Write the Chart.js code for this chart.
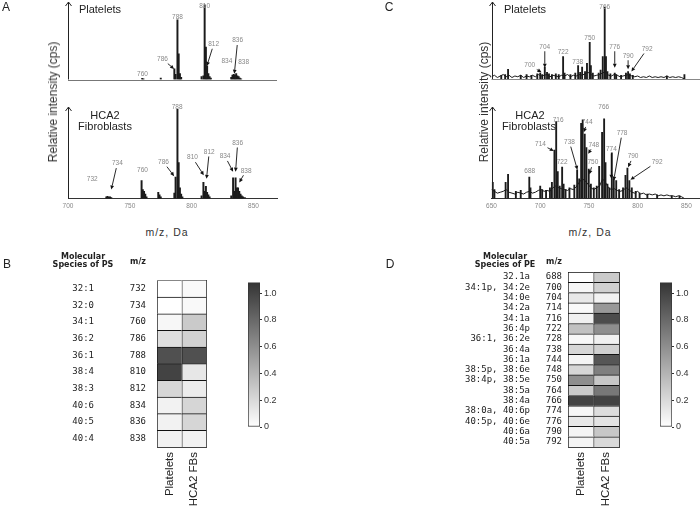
<!DOCTYPE html>
<html>
<head>
<meta charset="utf-8">
<script src="https://cdn.jsdelivr.net/npm/chart.js@4.4.0/dist/chart.umd.min.js"></script>
<style>
  html, body { margin: 0; padding: 0; background: #fff; }
  #fig { position: relative; width: 700px; height: 506px; overflow: hidden; font-family: 'Liberation Sans', Arial, sans-serif; color: #222; }
  #fig canvas { position: absolute; }
  .t { position: absolute; white-space: nowrap; line-height: 1; transform: translate(-50%, -50%); }
  .panel { font-size: 12px; }
  .name { font-size: 11px; }
  .ytitle { font-size: 12px; color: #333; transform: translate(-50%, -50%) rotate(-90deg); }
  .xtitle { font-size: 10.5px; color: #333; letter-spacing: 1px; }
  .head { font-family: 'DejaVu Sans', sans-serif; font-weight: bold; font-size: 8px; color: #222; }
</style>
</head>
<body>
<div id="fig">
  <canvas id="cA1" width="290" height="100" style="left:0;top:0"></canvas>
  <canvas id="cA2" width="290" height="116" style="left:0;top:100px"></canvas>
  <canvas id="cC1" width="260" height="100" style="left:440px;top:0"></canvas>
  <canvas id="cC2" width="260" height="116" style="left:440px;top:100px"></canvas>
  <canvas id="hB" width="215" height="266" style="left:0;top:240px"></canvas>
  <canvas id="barB" width="50" height="160" style="left:240px;top:275px"></canvas>
  <canvas id="hD" width="280" height="266" style="left:350px;top:240px"></canvas>
  <canvas id="barD" width="48" height="160" style="left:652px;top:275px"></canvas>

  <div class="t panel" style="left:6px;top:7px">A</div>
  <div class="t panel" style="left:389px;top:7px">C</div>
  <div class="t panel" style="left:7px;top:264px">B</div>
  <div class="t panel" style="left:390px;top:264px">D</div>

  <div class="t name" style="left:100px;top:9px">Platelets</div>
  <div class="t name" style="left:105px;top:115px">HCA2</div>
  <div class="t name" style="left:105px;top:126px">Fibroblasts</div>
  <div class="t name" style="left:525px;top:9px">Platelets</div>
  <div class="t name" style="left:530px;top:115px">HCA2</div>
  <div class="t name" style="left:529px;top:126px">Fibroblasts</div>

  <div class="t ytitle" style="left:53px;top:102px">Relative intensity (cps)</div>
  <div class="t ytitle" style="left:484px;top:102px">Relative intensity (cps)</div>
  <div class="t xtitle" style="left:167px;top:232px">m/z, Da</div>
  <div class="t xtitle" style="left:590px;top:232px">m/z, Da</div>

  <div class="t head" style="left:83px;top:257px">Molecular</div>
  <div class="t head" style="left:83px;top:265px">Species of PS</div>
  <div class="t head" style="left:138px;top:262px">m/z</div>
  <div class="t head" style="left:505px;top:257px">Molecular</div>
  <div class="t head" style="left:505px;top:265px">Species of PE</div>
  <div class="t head" style="left:554px;top:262px">m/z</div>
</div>
<script>
// ---- panel A : PS spectra ----
const mzA1 = [760, 761, 775, 786, 787, 788.5, 789.5, 790.5, 791.5, 808, 809.5, 810.5, 811.5, 812.5, 813.5, 814.5, 815.5, 832, 833, 834, 835, 836, 837, 838, 839, 840];
const intA1 = [1.5, 1, 2, 14, 7, 79, 34, 8, 3, 4, 5, 99, 43, 18, 8, 4, 2, 3, 6, 7, 6, 8, 5, 4, 2, 1];
const mzA2 = [731, 732, 733, 734, 735, 759.5, 760.5, 761.5, 762.5, 763.5, 773, 774, 775, 786, 787, 788.5, 789.5, 790.5, 791.5, 792.5, 808, 809.5, 810.5, 811.5, 812.5, 813.5, 814.5, 832, 833.5, 834.5, 835.5, 836.5, 837.5, 838.5, 839.5, 840.5, 841.5, 843];
const intA2 = [2, 2.5, 1.5, 2, 1, 20, 10, 8, 5, 2, 7, 4, 2, 6, 24, 100, 40, 12, 5, 2, 3, 18, 8, 13.5, 7, 4, 2, 3, 23, 8, 23, 12, 12, 8, 5, 3, 2, 1];

const annA1Text = ['760', '786', '788', '810', '812', '834', '836', '838'];
const annA1Pos = [[760.2, 6.5], [776.4, 27], [788.5, 83], [810.5, 97], [817.8, 46.7], [828.5, 23.7], [837.2, 51.6], [842, 22.6]];
const annA1Tip = [null, [785.8, 14], null, null, [812.3, 18], null, [834.5, 7.6], null];
const annA2Text = ['732', '734', '760', '786', '788', '810', '812', '834', '836', '838'];
const annA2Pos = [[719.6, 22], [739.9, 39], [760.2, 32], [777.2, 40.6], [788.2, 102], [800.7, 45.6], [814.2, 52], [827, 47], [837.2, 62], [844, 31]];
const annA2Tip = [null, [735, 10], null, [785.8, 25], null, [809.8, 26], [812, 22], [833.5, 30], [835.5, 30], [838.5, 18]];

// ---- panel C : PE spectra ----
const mzC1 = [660, 664, 667, 680, 686, 691, 697, 700, 702, 704.7, 707, 709, 712, 716, 719, 723.5, 725, 731, 736, 738.9, 741, 743, 746, 748, 750.8, 752, 754, 760, 762, 764.2, 766.2, 767.5, 769, 772, 776.5, 778, 783, 788, 790.2, 792, 795, 830, 848];
const intC1 = [5, 6, 13, 5, 6, 5, 7, 8, 6, 16, 9, 7, 6, 7, 6, 30, 8, 6, 8, 18, 9, 16, 10, 21, 49, 18, 8, 8, 12, 30, 96, 30, 10, 7, 8, 6, 5, 8, 10, 7, 5, 4, 6];
const mzC2 = [651.3, 653, 664.5, 667, 675, 680, 688.8, 690, 700, 702, 706, 710, 712, 714.6, 716.4, 718, 720, 722.5, 724, 726, 730, 735, 737.9, 740, 742, 743.6, 745.7, 747.4, 749.8, 752, 755, 758, 760.5, 763.5, 765.6, 767, 769, 771, 773.5, 775.5, 778, 781, 785, 787.5, 789.5, 791.5, 794, 798, 802, 810, 820, 835, 843];
const intC2 = [18, 10, 18, 27, 8, 9, 24, 12, 14, 10, 9, 12, 18, 54, 86, 30, 14, 35, 16, 10, 12, 15, 32, 22, 84, 88, 72, 57, 33, 16, 12, 14, 36, 74, 89, 40, 16, 12, 51, 22, 20, 10, 12, 26, 34, 20, 12, 8, 6, 5, 4, 3, 3];
const noiseMzC = [650, 653, 656, 659, 662, 665, 668, 671, 674, 677, 680, 683, 686, 689, 692, 695, 698, 701, 704, 707, 710, 713, 716, 719, 722, 725, 728, 731, 734, 737, 740, 743, 746, 749, 752, 755, 758, 761, 764, 767, 770, 773, 776, 779, 782, 785, 788, 791, 794, 797, 800, 803, 806, 809, 812, 815, 818, 821, 824, 827, 830, 833, 836, 839, 842, 845, 848];
const noiseC1 = [3, 5, 2, 4, 6, 3, 5, 2, 4, 3, 5, 2, 4, 3, 5, 3, 6, 4, 5, 6, 3, 5, 4, 3, 5, 4, 6, 3, 5, 4, 6, 5, 7, 9, 6, 4, 5, 6, 8, 10, 5, 4, 6, 5, 3, 4, 5, 6, 4, 3, 4, 2, 3, 2, 4, 2, 3, 2, 3, 2, 4, 2, 3, 2, 3, 2, 0];
const noiseC2 = [10, 8, 6, 7, 8, 10, 7, 6, 5, 7, 6, 5, 7, 8, 6, 7, 9, 10, 8, 9, 8, 12, 14, 12, 11, 10, 9, 11, 10, 13, 18, 22, 20, 16, 12, 10, 12, 14, 22, 18, 12, 10, 11, 9, 8, 9, 12, 10, 7, 6, 8, 5, 6, 4, 5, 4, 5, 3, 4, 3, 4, 3, 3, 2, 3, 2, 0];

const annC1Text = ['700', '704', '722', '738', '750', '766', '776', '790', '792'];
const annC1Pos = [[689.3, 18], [704.7, 43], [723.5, 36], [738.5, 23], [750.8, 55], [766.2, 96], [776.5, 43], [790.2, 31], [809.7, 40]];
const annC1Tip = [[701.3, 9], [704.7, 15], null, null, null, null, [776.5, 15], [790.2, 13], [793.6, 10]];
const annC2Text = ['688', '714', '716', '722', '738', '744', '748', '750', '766', '774', '778', '790', '792'];
const annC2Pos = [[689.3, 31], [700.3, 61], [718.4, 88], [722.5, 40], [730, 63], [748.2, 85], [755, 60], [754, 40], [765.2, 102], [773, 55], [784, 73], [795.3, 47], [820, 41]];
const annC2Tip = [null, [713.9, 53], null, null, [738.2, 32], [744.7, 74], [749.2, 50], [750.5, 27], null, [773, 22], [775.4, 20], [790.2, 35], [792.6, 21]];

// ---- heatmaps ----
const heatCols = ['Platelets', 'HCA2 FBs'];
const speciesPS = ['32:1', '32:0', '34:1', '36:2', '36:1', '38:4', '38:3', '40:6', '40:5', '40:4'];
const mzPS = ['732', '734', '760', '786', '788', '810', '812', '834', '836', '838'];
const platePS = [0, 0, 0.04, 0.17, 0.93, 1.0, 0.22, 0.07, 0.07, 0.07];
const fibroPS = [0.03, 0.03, 0.28, 0.24, 0.93, 0.13, 0.1, 0.22, 0.22, 0.07];

const speciesPE = ['32.1a', '34:1p, 34:2e', '34:0e', '34:2a', '34:1a', '36:4p', '36:1, 36:2e', '36:4a', '36:1a', '38:5p, 38:6e', '38:4p, 38:5e', '38:5a', '38:4a', '38:0a, 40:6p', '40:5p, 40:6e', '40:6a', '40:5a'];
const mzPE = ['688', '700', '704', '714', '716', '722', '728', '738', '744', '748', '750', '764', '766', '774', '776', '790', '792'];
const platePE = [0, 0.05, 0.12, 0.03, 0.08, 0.33, 0.04, 0.22, 0.06, 0.22, 0.6, 0.28, 1.0, 0.05, 0.12, 0.06, 0.06];
const fibroPE = [0.28, 0.25, 0.07, 0.55, 0.95, 0.6, 0.08, 0.25, 0.9, 0.68, 0.3, 0.72, 1.0, 0.18, 0.15, 0.3, 0.2];

const cbMax = 1.08;
const cbTicks = [0, 0.2, 0.4, 0.6, 0.8, 1.0];

const INK = '#1b1b1b';
const DARK = 52;

function grayOf(v) {
  const g = Math.round(255 - (v / cbMax) * (255 - DARK));
  return 'rgb(' + g + ',' + g + ',' + g + ')';
}

// y axis with an open arrow head, and optional plain baseline
function axisArrow(baseColor) {
  return {
    id: 'axisArrow',
    afterDraw(chart) {
      const ctx = chart.ctx, a = chart.chartArea;
      ctx.save();
      ctx.lineWidth = 1;
      if (baseColor) {
        ctx.strokeStyle = baseColor;
        ctx.beginPath();
        ctx.moveTo(a.left, Math.round(a.bottom) + 0.5);
        ctx.lineTo(a.right, Math.round(a.bottom) + 0.5);
        ctx.stroke();
      }
      const x = Math.round(a.left) + 0.5;
      ctx.strokeStyle = '#222';
      ctx.beginPath();
      ctx.moveTo(x, a.bottom);
      ctx.lineTo(x, a.top - 2);
      ctx.moveTo(x - 3, a.top + 2);
      ctx.lineTo(x, a.top - 2);
      ctx.lineTo(x + 3, a.top + 2);
      ctx.stroke();
      ctx.restore();
    }
  };
}

// grey m/z labels, some with a black arrow to their peak
function peakLabels(texts, pos, tips) {
  return {
    id: 'peakLabels',
    afterDatasetsDraw(chart) {
      const ctx = chart.ctx, xs = chart.scales.x, ys = chart.scales.y;
      ctx.save();
      ctx.font = '6.5px "Liberation Sans", Arial, sans-serif';
      ctx.textAlign = 'center';
      ctx.textBaseline = 'middle';
      texts.forEach((t, i) => {
        const tx = xs.getPixelForValue(pos[i][0]);
        const ty = ys.getPixelForValue(pos[i][1]);
        ctx.fillStyle = '#888';
        ctx.fillText(t, tx, ty);
        const tip = tips[i];
        if (!tip) return;
        const px = xs.getPixelForValue(tip[0]);
        const py = ys.getPixelForValue(tip[1]);
        const dx = px - tx, dy = py - ty;
        const len = Math.hypot(dx, dy);
        const ux = dx / len, uy = dy / len;
        const k = Math.min(Math.abs(ux) > 0.01 ? 7 / Math.abs(ux) : 99, Math.abs(uy) > 0.01 ? 4.5 / Math.abs(uy) : 99);
        const sx = tx + ux * k, sy = ty + uy * k;
        const hx = px - ux * 4, hy = py - uy * 4;
        ctx.strokeStyle = '#111';
        ctx.fillStyle = '#111';
        ctx.lineWidth = 0.9;
        ctx.beginPath();
        ctx.moveTo(sx, sy);
        ctx.lineTo(hx, hy);
        ctx.stroke();
        ctx.beginPath();
        ctx.moveTo(px, py);
        ctx.lineTo(hx - uy * 1.9, hy + ux * 1.9);
        ctx.lineTo(hx + uy * 1.9, hy - ux * 1.9);
        ctx.closePath();
        ctx.fill();
      });
      ctx.restore();
    }
  };
}

function spectrum(id, xMin, xMax, mz, inten, noise, padding, showTicks, baseColor, barW, ann) {
  const datasets = [{
    type: 'bar',
    data: mz.map((m, i) => ({ x: m, y: inten[i] })),
    backgroundColor: INK,
    barThickness: barW,
    order: 1
  }];
  if (noise) {
    datasets.push({
      type: 'line',
      data: noiseMzC.map((m, i) => ({ x: m, y: noise[i] })),
      borderColor: INK,
      borderWidth: 1,
      pointRadius: 0,
      tension: 0,
      order: 0
    });
  }
  return new Chart(document.getElementById(id), {
    type: 'bar',
    data: { datasets: datasets },
    options: {
      responsive: false,
      animation: false,
      layout: { padding: padding },
      plugins: { legend: { display: false }, tooltip: { enabled: false } },
      scales: {
        x: {
          type: 'linear', min: xMin, max: xMax, offset: false, display: showTicks,
          grid: { display: false, drawTicks: false },
          border: { color: '#333' },
          ticks: {
            stepSize: 50, includeBounds: false, padding: 4, maxRotation: 0, autoSkip: false,
            font: { family: 'Liberation Sans', size: 6.5 }, color: '#888'
          },
          afterFit: s => { s.height = 14; }
        },
        y: { min: 0, max: 100, display: false }
      }
    },
    plugins: [axisArrow(baseColor), peakLabels(ann[0], ann[1], ann[2])]
  });
}

spectrum('cA1', 700, 869, mzA1, intA1, null, { left: 68, right: 13, top: 4, bottom: 6.5 }, false, '#777', 1.3, [annA1Text, annA1Pos, annA1Tip]);
spectrum('cA2', 700, 869, mzA2, intA2, null, { left: 68, right: 13, top: 9, bottom: 3.5 }, true, null, 1.3, [annA2Text, annA2Pos, annA2Tip]);
spectrum('cC1', 650, 864, mzC1, intC1, noiseC1, { left: 51.5, right: 0, top: 4, bottom: 7 }, false, '#888', 1.2, [annC1Text, annC1Pos, annC1Tip]);
spectrum('cC2', 650, 864, mzC2, intC2, noiseC2, { left: 51.5, right: 0, top: 9, bottom: 3.5 }, true, null, 1.2, [annC2Text, annC2Pos, annC2Tip]);

function heatmap(id, species, mz, plate, fibro, lay) {
  const rowFont = { family: 'DejaVu Sans Mono', size: 9 };
  return new Chart(document.getElementById(id), {
    type: 'bar',
    data: {
      labels: mz,
      datasets: [
        { data: mz.map(() => 1), backgroundColor: plate.map(grayOf) },
        { data: mz.map(() => 1), backgroundColor: fibro.map(grayOf) }
      ]
    },
    options: {
      indexAxis: 'y',
      responsive: false,
      animation: false,
      layout: { padding: { left: lay.padLeft, right: lay.padRight, top: 32, bottom: 0 } },
      plugins: { legend: { display: false }, tooltip: { enabled: false } },
      datasets: {
        bar: {
          categoryPercentage: 1, barPercentage: 1,
          borderColor: '#111', borderWidth: { top: 1, left: 1, right: 0, bottom: 0 }, borderSkipped: false
        }
      },
      scales: {
        x: { type: 'linear', stacked: true, min: 0, max: 2, display: false },
        y: {
          type: 'category', stacked: true, offset: true, weight: 0,
          grid: { display: false, drawTicks: false }, border: { display: false },
          ticks: { autoSkip: false, padding: lay.mzPad, crossAlign: 'center', font: rowFont, color: '#222' },
          afterFit: s => { s.width = 28; }
        },
        ys: {
          type: 'category', axis: 'y', position: 'left', labels: species, offset: true, weight: 1,
          grid: { display: false, drawTicks: false }, border: { display: false },
          ticks: { autoSkip: false, padding: lay.spPad, crossAlign: lay.spAlign, font: rowFont, color: '#222' },
          afterFit: s => { s.width = lay.spWidth; }
        },
        yr: {
          type: 'category', axis: 'y', position: 'right', labels: mz, offset: true,
          grid: { display: false, drawTicks: false }, border: { color: '#444' },
          ticks: { display: false },
          afterFit: s => { s.width = 0; }
        },
        xc: {
          type: 'category', axis: 'x', position: 'bottom', labels: heatCols, offset: true,
          grid: { display: false, drawTicks: false }, border: { color: '#444' },
          ticks: {
            autoSkip: false, maxRotation: 90, minRotation: 90, padding: 5,
            font: { family: 'Liberation Sans', size: 11.5 }, color: '#222'
          },
          afterFit: s => { s.height = 59; }
        }
      }
    }
  });
}

heatmap('hB', speciesPS, mzPS, platePS, fibroPS, { padLeft: 54, padRight: 6, spWidth: 75, spPad: 35, spAlign: 'center', mzPad: 11 });
heatmap('hD', speciesPE, mzPE, platePE, fibroPE, { padLeft: 40, padRight: 11, spWidth: 150, spPad: 10, spAlign: 'near', mzPad: 6 });

function colorBar(id, axisWidth) {
  return new Chart(document.getElementById(id), {
    type: 'bar',
    data: {
      labels: [''],
      datasets: [{
        data: [[0, cbMax]],
        backgroundColor: c => {
          const a = c.chart.chartArea;
          if (!a) return '#999';
          const g = c.chart.ctx.createLinearGradient(0, a.bottom, 0, a.top);
          g.addColorStop(0, '#ffffff');
          g.addColorStop(1, 'rgb(' + DARK + ',' + DARK + ',' + DARK + ')');
          return g;
        },
        borderColor: '#333', borderWidth: 1, borderSkipped: false,
        categoryPercentage: 1, barPercentage: 1
      }]
    },
    options: {
      responsive: false,
      animation: false,
      layout: { padding: { left: 8, top: 6, bottom: 8, right: 0 } },
      plugins: { legend: { display: false }, tooltip: { enabled: false } },
      scales: {
        x: { display: false },
        y: {
          position: 'right', min: 0, max: cbMax,
          grid: { display: true, drawOnChartArea: false, drawTicks: true, tickLength: 2, color: '#333' },
          border: { display: false },
          ticks: {
            padding: 2, font: { family: 'Liberation Sans', size: 9 }, color: '#333',
            callback: v => v === 0 ? '0' : Number(v).toFixed(1)
          },
          afterBuildTicks: s => { s.ticks = cbTicks.map(v => ({ value: v })); },
          afterFit: s => { s.width = axisWidth; }
        }
      }
    }
  });
}

colorBar('barB', 30);
colorBar('barD', 28);
</script>
</body>
</html>
